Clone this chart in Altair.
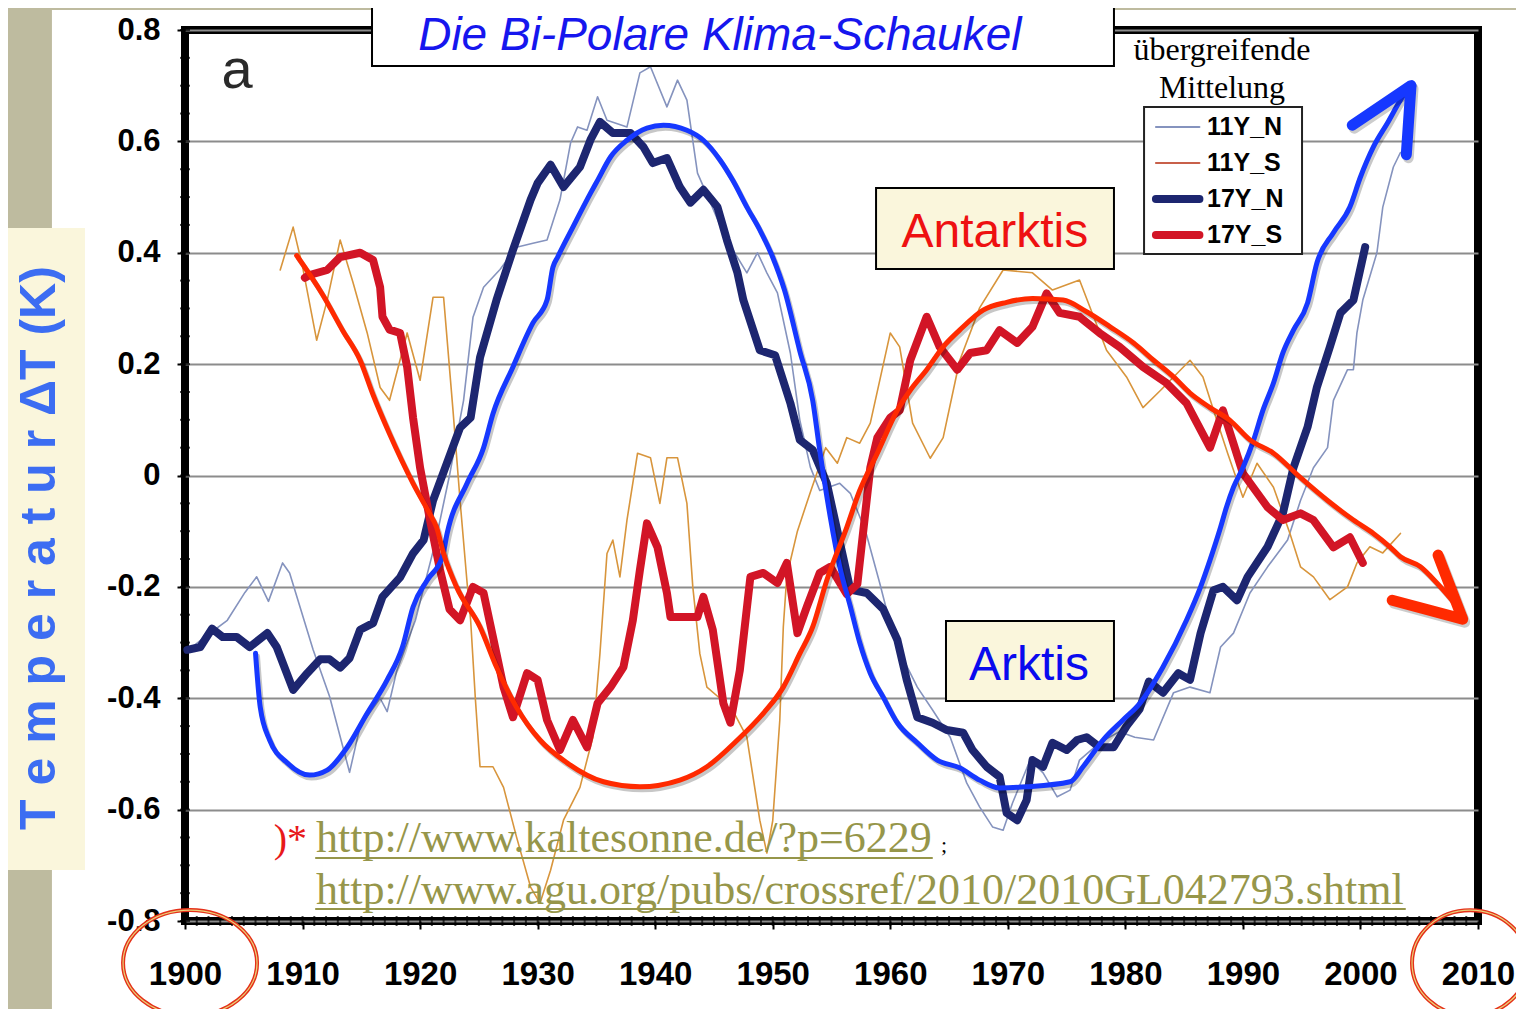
import altair as alt
import pandas as pd

# ---------------- values (year, temperature anomaly K) ----------------
n17 = [(1900.2, -0.313), (1901.3, -0.308), (1902.3, -0.275), (1903.2, -0.29), (1904.4, -0.29),
       (1905.5, -0.308), (1907.0, -0.283), (1907.8, -0.308), (1909.2, -0.385), (1910.4, -0.355),
       (1911.5, -0.33), (1912.3, -0.33), (1913.2, -0.345), (1914.0, -0.328), (1914.9, -0.277),
       (1916.0, -0.265), (1916.8, -0.218), (1918.3, -0.183), (1919.4, -0.14), (1920.3, -0.116),
       (1921.1, -0.045), (1923.4, 0.086), (1924.3, 0.104), (1925.1, 0.212), (1926.5, 0.315),
       (1927.9, 0.405), (1929.4, 0.495), (1930.0, 0.525), (1931.1, 0.558), (1932.2, 0.518),
       (1933.6, 0.554), (1934.5, 0.603), (1935.3, 0.635), (1936.4, 0.615), (1937.9, 0.615),
       (1939.0, 0.59), (1939.8, 0.561), (1941.0, 0.57), (1942.1, 0.518), (1943.0, 0.49),
       (1944.1, 0.513), (1945.3, 0.482), (1946.1, 0.423), (1947.0, 0.364), (1947.5, 0.315),
       (1948.9, 0.225), (1950.2, 0.216), (1951.5, 0.13), (1952.3, 0.064), (1953.4, 0.046),
       (1954.6, -0.014), (1955.5, -0.1), (1956.6, -0.205), (1958.0, -0.211), (1959.4, -0.24),
       (1960.6, -0.295), (1961.4, -0.367), (1962.3, -0.434), (1963.6, -0.444), (1964.8, -0.457),
       (1966.2, -0.462), (1967.0, -0.493), (1968.2, -0.523), (1969.3, -0.541), (1969.9, -0.606),
       (1970.8, -0.619), (1971.6, -0.583), (1972.1, -0.511), (1973.0, -0.523), (1973.8, -0.48),
       (1975.0, -0.493), (1975.9, -0.475), (1976.7, -0.47), (1977.8, -0.488), (1979.0, -0.488),
       (1980.1, -0.45), (1981.2, -0.42), (1982.0, -0.37), (1983.2, -0.39), (1984.5, -0.355),
       (1985.5, -0.367), (1986.4, -0.283), (1987.5, -0.206), (1988.3, -0.2), (1989.5, -0.224),
       (1990.4, -0.182), (1992.1, -0.128), (1993.4, -0.068), (1994.3, 0.014), (1995.5, 0.087),
       (1996.3, 0.159), (1997.4, 0.231), (1998.3, 0.292), (1999.4, 0.315), (2000.4, 0.41)]

n11 = [(1900.2, -0.315), (1901.7, -0.29), (1903.6, -0.26), (1905.1, -0.21), (1906.1, -0.182),
       (1907.1, -0.226), (1908.3, -0.157), (1908.9, -0.175), (1910.9, -0.313), (1912.3, -0.397),
       (1914.0, -0.533), (1914.9, -0.45), (1916.6, -0.40), (1917.2, -0.424), (1918.0, -0.352),
       (1919.6, -0.26), (1921.3, -0.12), (1922.5, 0.0), (1923.7, 0.135), (1924.5, 0.284),
       (1925.4, 0.338), (1926.8, 0.37), (1928.2, 0.41), (1929.6, 0.417), (1930.8, 0.423),
       (1931.9, 0.495), (1932.8, 0.597), (1933.4, 0.626), (1934.2, 0.62), (1935.1, 0.68),
       (1935.9, 0.638), (1937.6, 0.626), (1938.7, 0.723), (1939.6, 0.734), (1941.0, 0.662),
       (1941.9, 0.71), (1942.7, 0.674), (1943.6, 0.543), (1944.7, 0.49), (1945.9, 0.43),
       (1947.8, 0.364), (1948.7, 0.40), (1949.5, 0.364), (1950.4, 0.328), (1951.5, 0.22),
       (1952.3, 0.10), (1953.2, 0.015), (1954.0, -0.027), (1955.7, -0.014), (1956.6, -0.032),
       (1957.9, -0.10), (1959.1, -0.193), (1960.4, -0.30), (1962.3, -0.38), (1963.6, -0.421),
       (1965.1, -0.47), (1966.5, -0.552), (1967.6, -0.595), (1968.7, -0.631), (1969.6, -0.637),
       (1970.4, -0.588), (1971.9, -0.511), (1973.0, -0.534), (1974.2, -0.577), (1975.3, -0.565),
       (1976.1, -0.511), (1977.8, -0.48), (1979.5, -0.46), (1980.8, -0.47), (1982.4, -0.475),
       (1984.1, -0.39), (1985.5, -0.38), (1987.2, -0.39), (1988.1, -0.308), (1989.2, -0.283),
       (1990.6, -0.211), (1992.1, -0.164), (1993.8, -0.116), (1994.9, -0.045), (1996.0, 0.014),
       (1997.2, 0.05), (1997.7, 0.135), (1998.9, 0.19), (1999.4, 0.19), (1999.7, 0.256),
       (2000.2, 0.315), (2001.4, 0.40), (2001.9, 0.482), (2002.8, 0.554), (2003.4, 0.58)]

s11 = [(1908.1, 0.369), (1909.2, 0.446), (1910.0, 0.375), (1911.2, 0.243), (1912.1, 0.315),
       (1913.2, 0.423), (1914.3, 0.346), (1915.5, 0.256), (1916.6, 0.158), (1917.4, 0.135),
       (1918.9, 0.256), (1920.0, 0.171), (1921.1, 0.32), (1922.0, 0.32), (1922.8, 0.117),
       (1923.4, -0.045), (1924.0, -0.193), (1924.3, -0.26), (1924.7, -0.40), (1925.1, -0.523),
       (1926.2, -0.523), (1927.1, -0.56), (1928.2, -0.649), (1929.4, -0.739), (1930.2, -0.768),
       (1931.1, -0.709), (1932.2, -0.619), (1933.6, -0.56), (1934.7, -0.47), (1935.3, -0.32),
       (1935.9, -0.14), (1936.4, -0.116), (1937.0, -0.182), (1937.6, -0.08), (1938.5, 0.04),
       (1939.6, 0.032), (1940.4, -0.05), (1941.0, 0.032), (1941.9, 0.032), (1942.7, -0.05),
       (1943.2, -0.2), (1943.8, -0.32), (1944.4, -0.38), (1945.5, -0.40), (1946.8, -0.43),
       (1947.8, -0.47), (1948.9, -0.619), (1949.5, -0.678), (1950.0, -0.62), (1950.6, -0.44),
       (1950.9, -0.272), (1951.2, -0.18), (1952.1, -0.10), (1953.2, -0.03), (1954.5, 0.05),
       (1955.5, 0.022), (1956.3, 0.068), (1957.4, 0.058), (1958.3, 0.094), (1960.0, 0.256),
       (1960.8, 0.231), (1961.9, 0.094), (1963.4, 0.031), (1964.5, 0.068), (1965.9, 0.206),
       (1967.6, 0.301), (1969.6, 0.369), (1972.1, 0.364), (1973.8, 0.333), (1976.1, 0.351),
       (1977.3, 0.285), (1978.4, 0.225), (1980.1, 0.177), (1981.5, 0.122), (1983.0, 0.153),
       (1985.5, 0.207), (1986.6, 0.177), (1987.5, 0.117), (1988.7, 0.04), (1990.0, -0.039),
       (1991.2, 0.022), (1992.6, -0.021), (1994.0, -0.104), (1994.9, -0.164), (1996.0, -0.182),
       (1997.4, -0.223), (1998.9, -0.2), (1999.7, -0.157), (2000.8, -0.128), (2001.9, -0.139),
       (2003.4, -0.104)]

s17 = [(1910.2, 0.355), (1910.6, 0.36), (1912.1, 0.369), (1913.2, 0.392), (1914.9, 0.40),
       (1916.0, 0.387), (1916.6, 0.338), (1916.8, 0.285), (1917.4, 0.262), (1918.3, 0.256),
       (1918.9, 0.195), (1919.4, 0.104), (1920.0, 0.014), (1920.8, -0.075), (1921.7, -0.17),
       (1922.5, -0.24), (1923.4, -0.26), (1924.5, -0.2), (1925.4, -0.211), (1926.2, -0.29),
       (1927.1, -0.38), (1927.9, -0.434), (1929.1, -0.355), (1930.0, -0.367), (1930.8, -0.439),
       (1931.9, -0.493), (1933.0, -0.439), (1934.2, -0.488), (1935.1, -0.409), (1936.2, -0.38),
       (1937.3, -0.344), (1938.1, -0.26), (1938.7, -0.17), (1939.3, -0.086), (1940.2, -0.129),
       (1941.0, -0.211), (1941.3, -0.254), (1942.4, -0.254), (1943.6, -0.254), (1944.1, -0.218),
       (1944.9, -0.277), (1945.8, -0.409), (1946.4, -0.444), (1947.2, -0.35), (1948.1, -0.182),
       (1949.2, -0.175), (1950.4, -0.193), (1951.2, -0.157), (1952.1, -0.283), (1952.9, -0.236),
       (1954.0, -0.175), (1954.9, -0.164), (1956.3, -0.213), (1957.2, -0.195), (1958.3, 0.014),
       (1958.9, 0.068), (1960.0, 0.104), (1960.8, 0.117), (1961.7, 0.207), (1963.1, 0.285),
       (1964.2, 0.231), (1965.7, 0.19), (1966.8, 0.22), (1968.2, 0.225), (1969.3, 0.261),
       (1970.8, 0.238), (1972.1, 0.267), (1973.3, 0.327), (1974.4, 0.292), (1976.1, 0.285),
       (1977.8, 0.256), (1979.5, 0.231), (1981.5, 0.195), (1983.5, 0.166), (1985.2, 0.13),
       (1987.2, 0.05), (1988.3, 0.117), (1990.0, 0.004), (1992.1, -0.057), (1993.4, -0.08),
       (1994.9, -0.068), (1996.0, -0.08), (1997.7, -0.129), (1999.1, -0.111), (2000.2, -0.157)]

# hand-drawn sketch curves (blue = Arktis, red = Antarktis)
hand_blue = [(1906.0, -0.319), (1906.4, -0.416), (1907.2, -0.475), (1908.7, -0.516), (1910.6, -0.538),
             (1912.1, -0.529), (1913.8, -0.488), (1915.5, -0.427), (1917.2, -0.367), (1918.5, -0.308),
             (1919.4, -0.236), (1920.6, -0.188), (1921.9, -0.146), (1922.3, -0.104), (1924.0, -0.014),
             (1925.4, 0.05), (1926.2, 0.111), (1927.9, 0.195), (1929.6, 0.274), (1930.8, 0.315),
             (1931.3, 0.374), (1931.7, 0.392), (1933.0, 0.446), (1934.5, 0.507), (1935.1, 0.53),
             (1936.2, 0.572), (1937.6, 0.602), (1939.3, 0.624), (1940.7, 0.629), (1942.7, 0.62),
             (1944.1, 0.602), (1945.5, 0.567), (1946.6, 0.53), (1947.8, 0.482), (1948.9, 0.441),
             (1950.0, 0.392), (1951.0, 0.333), (1952.3, 0.224), (1953.4, 0.135), (1954.0, 0.045),
             (1954.9, -0.075), (1955.7, -0.164), (1956.6, -0.235), (1957.4, -0.30), (1958.3, -0.355),
             (1959.4, -0.398), (1960.6, -0.444), (1962.3, -0.48), (1964.0, -0.511), (1965.9, -0.525),
             (1967.6, -0.547), (1969.3, -0.561), (1971.6, -0.559), (1975.3, -0.55), (1976.4, -0.523),
             (1978.1, -0.475), (1979.8, -0.439), (1981.2, -0.41), (1983.2, -0.344), (1985.2, -0.26),
             (1986.4, -0.2), (1987.2, -0.152), (1988.1, -0.093), (1988.6, -0.057), (1989.2, -0.021),
             (1990.0, 0.014), (1990.9, 0.063), (1991.7, 0.117), (1992.6, 0.166), (1993.4, 0.22),
             (1994.3, 0.261), (1995.5, 0.31), (1996.3, 0.382), (1997.7, 0.436), (1999.1, 0.482),
             (2000.0, 0.536), (2001.1, 0.59), (2002.3, 0.633), (2003.4, 0.674), (2004.4, 0.705)]

hand_red = [(1909.5, 0.395), (1911.7, 0.325), (1913.4, 0.261), (1914.9, 0.207), (1916.0, 0.145),
            (1917.4, 0.075), (1919.4, -0.014), (1920.8, -0.068), (1921.4, -0.093), (1922.0, -0.14),
            (1923.1, -0.2), (1925.1, -0.272), (1926.5, -0.344), (1928.2, -0.416), (1930.2, -0.475),
            (1932.5, -0.516), (1935.6, -0.55), (1938.7, -0.559), (1942.1, -0.547), (1944.4, -0.523),
            (1947.0, -0.475), (1949.2, -0.427), (1950.9, -0.38), (1952.3, -0.32), (1953.4, -0.272),
            (1954.6, -0.188), (1956.3, -0.093), (1957.4, -0.027), (1958.9, 0.04), (1960.6, 0.117),
            (1961.7, 0.153), (1963.1, 0.19), (1964.5, 0.231), (1965.9, 0.261), (1967.9, 0.297),
            (1969.9, 0.311), (1972.1, 0.318), (1974.7, 0.315), (1976.7, 0.294), (1978.7, 0.267),
            (1980.7, 0.238), (1982.4, 0.207), (1984.1, 0.177), (1985.5, 0.148), (1987.2, 0.122),
            (1988.9, 0.099), (1990.6, 0.064), (1992.6, 0.04), (1994.9, -0.004), (1997.2, -0.045),
            (1999.4, -0.08), (2001.1, -0.104), (2002.5, -0.128), (2003.4, -0.146), (2005.1, -0.164),
            (2006.5, -0.193), (2008.7, -0.247)]

# arrow heads of the sketch curves (end, tip, end)
blue_head = [(1999.3, 0.629), (2004.3, 0.70), (2003.9, 0.576)]
red_head = [(2006.6, -0.143), (2008.7, -0.258), (2002.7, -0.224)]

x_ticks = [1900, 1910, 1920, 1930, 1940, 1950, 1960, 1970, 1980, 1990, 2000, 2010]
y_ticks = [-0.8, -0.6, -0.4, -0.2, 0, 0.2, 0.4, 0.6, 0.8]
minor_years = list(range(1901, 2010))
minor_vals = [round(-0.8 + 0.05 * i, 2) for i in range(33)]
legend_names = ["11Y_N", "11Y_S", "17Y_N", "17Y_S"]

# ---------------- styling ----------------
C_N11 = "#8593BE"
C_S11 = "#D8953C"
C_N17 = "#1D2670"
C_S17 = "#D21526"
C_HB = "#1638FF"
C_HR = "#FF2A00"
OLIVE = "#BEBB9F"
BEIGE = "#FAF6DC"
LINK = "#96964A"

xscale = alt.Scale(domain=[1900, 2010], nice=False, zero=False)
yscale = alt.Scale(domain=[-0.8, 0.8], nice=False, zero=False)
X = alt.X("year:Q", scale=xscale,
          axis=alt.Axis(values=x_ticks, format="d", title=None, grid=False, domain=False,
                        tickSize=8, tickWidth=2, tickColor="black",
                        labelFont="Liberation Sans", labelFontWeight="bold", labelFontSize=33,
                        labelColor="black", labelPadding=29, labelFlush=False, labelOverlap=False))
Y = alt.Y("value:Q", scale=yscale,
          axis=alt.Axis(values=y_ticks, title=None, grid=True, gridColor="#8c8c8c", gridWidth=2,
                        domain=False, tickSize=8, tickWidth=2, tickColor="black",
                        labelExpr="datum.value == 0 ? '0' : (datum.value < 0 ? '-' + format(-datum.value, '.1f') : format(datum.value, '.1f'))",
                        labelFont="Liberation Sans", labelFontWeight="bold", labelFontSize=31,
                        labelColor="black", labelPadding=17, labelOverlap=False))


def pts(pairs):
    return pd.DataFrame(pairs, columns=["year", "value"])


def series(pairs, color, width, interp="linear", **kw):
    return alt.Chart(pts(pairs)).mark_line(color=color, strokeWidth=width, strokeJoin="round",
                                           strokeCap="round", interpolate=interp, **kw).encode(x=X, y=Y)


def head(pairs, color, width, **kw):
    d = pts(pairs)
    d["i"] = range(len(d))
    return alt.Chart(d).mark_line(color=color, strokeWidth=width, strokeJoin="round",
                                  strokeCap="round", **kw).encode(x=X, y=Y, order="i:Q")


def box(x1, x2, y1, y2, fill, stroke=None, sw=0):
    d = pd.DataFrame({"year": [x1], "year2": [x2], "value": [y1], "value2": [y2]})
    props = dict(fill=fill)
    if stroke:
        props.update(stroke=stroke, strokeWidth=sw)
    return alt.Chart(d).mark_rect(**props).encode(x=X, x2="year2:Q", y=Y, y2="value2:Q")


def seg(x1, x2, y, color, w):
    d = pd.DataFrame({"year": [x1], "year2": [x2], "value": [y]})
    return alt.Chart(d).mark_rule(color=color, strokeWidth=w, strokeCap="round").encode(
        x=X, x2="year2:Q", y=Y)


def label(x, y, s, **props):
    d = pd.DataFrame({"year": [x], "value": [y], "t": [s]})
    return alt.Chart(d).mark_text(**props).encode(x=X, y=Y, text="t:N")


def ring(x, y, size, shape, color, w):
    d = pd.DataFrame({"year": [x], "value": [y]})
    return alt.Chart(d).mark_point(shape=shape, size=size, filled=False, color=color,
                                   strokeWidth=w, opacity=1).encode(x=X, y=Y)


layers = []
# surroundings: olive strips and beige box for the axis title
layers.append(box(1880, 1888.68, 1.0, -1.1, OLIVE))
layers.append(box(1880, 2020, 1.0, 0.836, OLIVE))
layers.append(box(1880, 1891.49, 0.4444, -0.7084, BEIGE))
layers.append(label(1888.94, -0.1302, "T e m p e r a t u r  \u0394T (K)", angle=270, align="center",
                    baseline="alphabetic", font="Liberation Sans", fontWeight="bold", fontSize=50,
                    color="#3C6DF2"))

# minor ticks on the frame
layers.append(alt.Chart(pd.DataFrame({"year": minor_years, "value": -0.8})).mark_tick(
    orient="vertical", size=10, thickness=2, color="black").encode(x=X, y=Y))
layers.append(alt.Chart(pd.DataFrame({"year": 1900, "value": minor_vals})).mark_tick(
    orient="horizontal", size=10, thickness=2, color="black").encode(x=X, y=Y))

# data series
layers.append(series(n11, C_N11, 1.6))
layers.append(series(s11, C_S11, 1.6))
layers.append(series(n17, C_N17, 8))
layers.append(series(s17, C_S17, 8))

# hand-drawn sketch curves with shadow
for pairs, col in [(hand_blue, C_HB), (hand_red, C_HR)]:
    layers.append(series(pairs, "black", 5, "monotone", opacity=0.22, xOffset=2, yOffset=3))
    layers.append(series(pairs, col, 5, "monotone"))
for pairs, col in [(blue_head, C_HB), (red_head, C_HR)]:
    layers.append(head(pairs, "black", 11, opacity=0.2, xOffset=2, yOffset=3))
    layers.append(head(pairs, col, 11))

# title box
layers.append(box(1915.91, 1979.03, 0.8629, 0.7354, "white", "black", 2))
layers.append(label(1945.5, 0.7641, "Die Bi-Polare Klima-Schaukel", align="center",
                    baseline="alphabetic", font="Liberation Sans", fontStyle="italic",
                    fontSize=46, color="#1616EE"))
# panel letter
layers.append(label(1904.42, 0.6958, "a", align="center", baseline="alphabetic",
                    font="Liberation Sans", fontSize=56, color="#2a2a2a"))

# legend
layers.append(label(1988.22, 0.7461, "übergreifende", align="center", baseline="alphabetic",
                    font="Liberation Serif", fontSize=32, color="black"))
layers.append(label(1988.22, 0.6779, "Mittelung", align="center", baseline="alphabetic",
                    font="Liberation Serif", fontSize=32, color="black"))
layers.append(box(1981.59, 1995.03, 0.6617, 0.3978, "white", "#222222", 2))
leg_y = [0.6258, 0.5612, 0.4965, 0.4319]
leg_c = [C_N11, "#C8604A", C_N17, C_S17]
leg_w = [2, 2, 8, 8]
for name, yy, cc, ww in zip(legend_names, leg_y, leg_c, leg_w):
    layers.append(seg(1982.6, 1986.3, yy, cc, ww))
    layers.append(label(1986.95, yy, name, align="left", baseline="middle",
                        font="Liberation Sans", fontWeight="bold", fontSize=25, color="black"))

# region labels
layers.append(box(1958.79, 1979.03, 0.5163, 0.3708, BEIGE, "black", 2))
layers.append(label(1968.9, 0.41, "Antarktis", align="center", baseline="alphabetic",
                    font="Liberation Sans", fontSize=48, color="#EE1111"))
layers.append(box(1964.74, 1979.03, -0.2613, -0.4049, BEIGE, "black", 2))
layers.append(label(1971.8, -0.367, "Arktis", align="center", baseline="alphabetic",
                    font="Liberation Sans", fontSize=48, color="#0A0AEE"))

# source footnote
layers.append(label(1910.38, -0.6761, ")*", align="right", baseline="alphabetic",
                    font="Liberation Serif", fontSize=40, color="#E8191A"))
layers.append(label(1911.14, -0.6761, "http://www.kaltesonne.de/?p=6229", align="left",
                    baseline="alphabetic", font="Liberation Serif", fontSize=44, color=LINK))
layers.append(label(1964.32, -0.6761, ";", align="left", baseline="alphabetic",
                    font="Liberation Serif", fontSize=22, color="black"))
layers.append(label(1911.14, -0.7695, "http://www.agu.org/pubs/crossref/2010/2010GL042793.shtml",
                    align="left", baseline="alphabetic", font="Liberation Serif", fontSize=44,
                    color=LINK))
layers.append(seg(1911.14, 1963.55, -0.6869, LINK, 2))
layers.append(seg(1911.14, 2003.79, -0.7785, LINK, 2))

# circles around first and last year
E1 = "M -1 0 A 1 0.79 0 1 1 1 0 A 1 0.79 0 1 1 -1 0 Z"
E2 = "M -1 0 A 1 0.91 0 1 1 1 0 A 1 0.91 0 1 1 -1 0 Z"
layers.append(ring(1900.43, -0.8754, 17956, E1, "#E53019", 4))
layers.append(ring(1900.43, -0.8754, 17956, E1, "#E8D27A", 1.2))
layers.append(ring(2009.32, -0.8754, 13456, E2, "#E53019", 4))
layers.append(ring(2009.32, -0.8754, 13456, E2, "#E8D27A", 1.2))

chart = alt.layer(*layers).properties(
    width=1293, height=891,
    autosize=alt.AutoSizeParams(type="none"),
    padding={"left": 177, "top": 22, "right": 38, "bottom": 88},
    background="white",
).configure_view(stroke="black", strokeWidth=8, fill="white")

chart.save("out.html", embed_options={"renderer": "svg", "actions": False})
